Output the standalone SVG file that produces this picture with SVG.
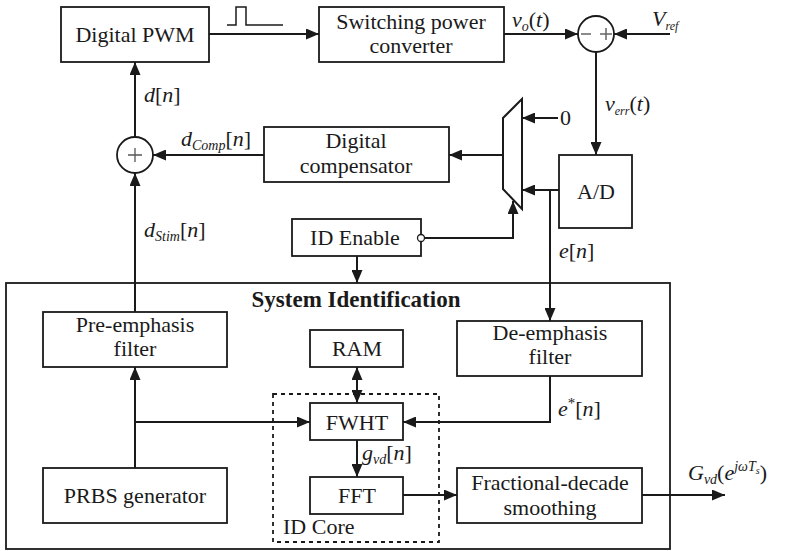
<svg xmlns="http://www.w3.org/2000/svg" width="788" height="551" viewBox="0 0 788 551">
<defs>
<marker id="ah" markerWidth="14" markerHeight="11" refX="13" refY="5.5" orient="auto" markerUnits="userSpaceOnUse">
<path d="M0,0 L13,5.5 L0,11 Z" fill="#1a1a1a"/>
</marker>
<marker id="ahs" markerWidth="14" markerHeight="11" refX="13" refY="5.5" orient="auto-start-reverse" markerUnits="userSpaceOnUse">
<path d="M0,0 L13,5.5 L0,11 Z" fill="#1a1a1a"/>
</marker>
</defs>
<style>
.box{fill:#fff;stroke:#1a1a1a;stroke-width:1.8}
.ln{fill:none;stroke:#1a1a1a;stroke-width:2}
.t{font-family:"Liberation Serif","DejaVu Serif",serif;font-size:22px;fill:#1a1a1a}
.c{text-anchor:middle}
.m{font-family:"Liberation Serif","DejaVu Serif",serif;font-size:22px;fill:#1a1a1a}
.i{font-style:italic}
.s{font-size:14px;font-style:italic}
.b{font-weight:bold;font-size:23px}
</style>
<rect width="788" height="551" fill="#fff"/>

<g id="sysid">
<rect class="box" x="6" y="283" width="664" height="266" style="fill:none"/>
<text class="t c b" x="356" y="307">System Identification</text>
</g>
<g id="idcore">
<rect x="273" y="394" width="166" height="148" fill="none" stroke="#1a1a1a" stroke-width="1.8" stroke-dasharray="4,4"/>
<text class="t" x="283" y="534">ID Core</text>
</g>

<g id="pwm"><rect class="box" x="61" y="7" width="148" height="55"/><text class="t c" x="135" y="42">Digital PWM</text></g>
<g id="spc"><rect class="box" x="319" y="7" width="185" height="55"/><text class="t c" x="411" y="29">Switching power</text><text class="t c" x="411" y="53">converter</text></g>
<g id="sum1"><circle cx="596" cy="34" r="18" fill="#fff" stroke="#1a1a1a" stroke-width="1.8"/>
<path d="M581,34 H591 M600,34 H612 M606,28 V40" stroke="#666" stroke-width="1.5" fill="none"/></g>
<g id="ad"><rect class="box" x="559" y="155" width="73" height="73"/><text class="t c" x="596" y="199">A/D</text></g>
<g id="mux"><polygon points="503,118 522,99 522,209 503,189" fill="#fff" stroke="#1a1a1a" stroke-width="2"/></g>
<g id="comp"><rect class="box" x="264" y="127" width="185" height="55"/><text class="t c" x="356" y="148">Digital</text><text class="t c" x="356" y="173">compensator</text></g>
<g id="sum2"><circle cx="135" cy="155" r="18" fill="#fff" stroke="#1a1a1a" stroke-width="1.8"/>
<path d="M128,155 H142 M135,148 V162" stroke="#555" stroke-width="1.3" fill="none"/></g>
<g id="iden"><rect class="box" x="292" y="219" width="129" height="37"/><text class="t c" x="355" y="245">ID Enable</text></g>
<g id="pre"><rect class="box" x="43" y="312" width="184" height="55"/><text class="t c" x="135" y="332">Pre-emphasis</text><text class="t c" x="135" y="356">filter</text></g>
<g id="ram"><rect class="box" x="310" y="330" width="93" height="37"/><text class="t c" x="357" y="356">RAM</text></g>
<g id="de"><rect class="box" x="457" y="321" width="185" height="55"/><text class="t c" x="550" y="340">De-emphasis</text><text class="t c" x="550" y="364">filter</text></g>
<g id="fwht"><rect class="box" x="310" y="403" width="93" height="37"/><text class="t c" x="357" y="430">FWHT</text></g>
<g id="fft"><rect class="box" x="310" y="477" width="93" height="37"/><text class="t c" x="357" y="503">FFT</text></g>
<g id="prbs"><rect class="box" x="43" y="468" width="184" height="55"/><text class="t c" x="135" y="503">PRBS generator</text></g>
<g id="fds"><rect class="box" x="457" y="468" width="185" height="55"/><text class="t c" x="550" y="490">Fractional-decade</text><text class="t c" x="550" y="515">smoothing</text></g>

<g id="connectors">
<path class="ln" d="M209,34 H319" marker-end="url(#ah)"/>
<path d="M227,25 H236 V7 H246 V25 H283" fill="none" stroke="#1a1a1a" stroke-width="1.5"/>
<path class="ln" d="M504,34 H578" marker-end="url(#ah)"/>
<path class="ln" d="M670,34 H614" marker-end="url(#ah)"/>
<path class="ln" d="M596,52 V155" marker-end="url(#ah)"/>
<path class="ln" d="M559,190 H522" marker-end="url(#ah)"/>
<path class="ln" d="M550,190 V321" marker-end="url(#ah)"/>
<path class="ln" d="M558,118 H522" marker-end="url(#ah)"/>
<path class="ln" d="M503,155 H449" marker-end="url(#ah)"/>
<path class="ln" d="M264,155 H153" marker-end="url(#ah)"/>
<path class="ln" d="M135,137 V62" marker-end="url(#ah)"/>
<path class="ln" d="M135,312 V173" marker-end="url(#ah)"/>
<path class="ln" d="M424.5,238 H513 V201" marker-end="url(#ah)"/>
<circle cx="421" cy="238" r="3.5" fill="#fff" stroke="#1a1a1a" stroke-width="1.3"/>
<path class="ln" d="M357,256 V283" marker-end="url(#ah)"/>
<path class="ln" d="M135,468 V367" marker-end="url(#ah)"/>
<path class="ln" d="M135,422 H310" marker-end="url(#ah)"/>
<path class="ln" d="M550,376 V422 H403" marker-end="url(#ah)"/>
<path class="ln" d="M357,367 V403" marker-start="url(#ahs)" marker-end="url(#ahs)"/>
<path class="ln" d="M357,440 V477" marker-end="url(#ah)"/>
<path class="ln" d="M403,495 H457" marker-end="url(#ah)"/>
<path class="ln" d="M642,495 H725" marker-end="url(#ah)"/>
</g>

<g id="labels">
<text class="m" x="512" y="27"><tspan class="i">v</tspan><tspan class="s" dy="4">o</tspan><tspan dy="-4">(</tspan><tspan class="i">t</tspan>)</text>
<text class="m" x="652" y="26"><tspan class="i">V</tspan><tspan class="s" dy="4" style="font-size:12px">ref</tspan></text>
<text class="m" x="605" y="111"><tspan class="i">v</tspan><tspan class="s" dy="4" style="font-size:12px">err</tspan><tspan dy="-4">(</tspan><tspan class="i">t</tspan>)</text>
<text class="m" x="560" y="125">0</text>
<text class="m" x="144" y="102"><tspan class="i">d</tspan>[<tspan class="i">n</tspan>]</text>
<text class="m" x="181" y="146"><tspan class="i">d</tspan><tspan class="s" dy="4">Comp</tspan><tspan dy="-4">[</tspan><tspan class="i">n</tspan>]</text>
<text class="m" x="144" y="237"><tspan class="i">d</tspan><tspan class="s" dy="4">Stim</tspan><tspan dy="-4">[</tspan><tspan class="i">n</tspan>]</text>
<text class="m" x="559" y="258"><tspan class="i">e</tspan>[<tspan class="i">n</tspan>]</text>
<text class="m" x="558" y="416"><tspan class="i">e</tspan><tspan dy="-8" style="font-size:15px">*</tspan><tspan dy="8">[</tspan><tspan class="i">n</tspan>]</text>
<text class="m" x="362" y="460"><tspan class="i">g</tspan><tspan class="s" dy="4">vd</tspan><tspan dy="-4">[</tspan><tspan class="i">n</tspan>]</text>
<text class="m" x="688" y="480"><tspan class="i">G</tspan><tspan class="s" dy="4">vd</tspan><tspan dy="-4">(</tspan><tspan class="i">e</tspan><tspan class="s" dy="-9">jωT</tspan><tspan class="s" dy="3" style="font-size:10px">s</tspan><tspan dy="6">)</tspan></text>
</g>
</svg>
